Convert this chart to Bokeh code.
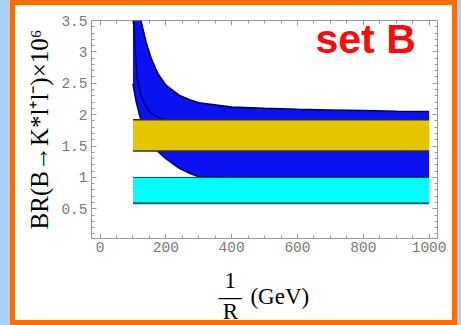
from bokeh.plotting import figure
from bokeh.models import Range1d, FixedTicker, LinearAxis, Label
from bokeh.layouts import column
from bokeh.embed import file_html
from bokeh.resources import INLINE

# ---- data ----
band_x = [100, 110, 124, 140, 155, 175, 200, 240, 270, 300, 400, 500, 600, 700, 800, 900, 1000]
br_upper = [3.5, 3.5, 3.5, 3.15, 2.9, 2.66, 2.47, 2.31, 2.24, 2.19, 2.12, 2.10, 2.085, 2.075, 2.065, 2.055, 2.05]
br_lower = [2.49, 2.2, 1.92, 1.72, 1.58, 1.42, 1.3, 1.15, 1.07, 1.01, 1.0, 1.0, 1.0, 1.0, 1.0, 1.0, 1.0]
inner_x = [102, 105, 108, 111, 114, 125, 135, 149, 165, 180, 194, 205]
br_inner = [3.5, 3.2, 2.95, 2.72, 2.54, 2.3, 2.17, 2.06, 1.99, 1.95, 1.92, 1.9]
box_x = [100, 1000]
yellow_band = [1.42, 1.92]
cyan_band = [0.59, 1.0]
x_major = [0, 200, 400, 600, 800, 1000]
x_minor = list(range(0, 1001, 50))
y_major = [0.5, 1.0, 1.5, 2.0, 2.5, 3.0, 3.5]
y_minor = [round(0.1 * i, 1) for i in range(1, 36)]
y_title = "BR(B\u2192K*l\u207al\u207b)\u00d710\u2076"
x_title_num = "1"
x_title_den = "R"
x_title_unit = "(GeV)"
panel_title = "set B"

BLUE = "#0a12f2"
NAVY = "#000070"
YELLOW = "#e4c600"
CYAN = "#00ffff"
FRAME = "#9a9a9a"
TICKTXT = "#7a7a7a"
ORANGE = "#fa6b0a"
LIGHTBLUE = "#aad2f8"

x_rng = Range1d(-26, 1025.5)

p = figure(width=437, height=261,
           x_range=x_rng, y_range=Range1d(0.027, 3.5),
           output_backend="svg", toolbar_location=None,
           min_border_left=76, min_border_right=15,
           min_border_top=15, min_border_bottom=28,
           background_fill_color="white", border_fill_color="white",
           outline_line_color=FRAME, outline_line_width=1)
p.grid.visible = False

# blue band
p.varea(x=band_x, y1=br_lower, y2=br_upper, fill_color=BLUE)
p.line(x=band_x[2:], y=br_upper[2:], line_color=NAVY, line_width=1.6)
p.line(x=band_x, y=br_lower, line_color=NAVY, line_width=1.6)
p.line(x=inner_x, y=br_inner, line_color=NAVY, line_width=1.4)

# yellow band
p.quad(left=[box_x[0]], right=[box_x[1]], bottom=[yellow_band[0]], top=[yellow_band[1]],
       fill_color=YELLOW, line_color=None)
p.segment(x0=[box_x[0]] * 2, x1=[box_x[1]] * 2, y0=yellow_band, y1=yellow_band,
          line_color="#3a3000", line_width=1.4)

# cyan band
p.quad(left=[box_x[0]], right=[box_x[1]], bottom=[cyan_band[0]], top=[cyan_band[1]],
       fill_color=CYAN, line_color=None)
p.segment(x0=[box_x[0]], x1=[box_x[1]], y0=[cyan_band[0]], y1=[cyan_band[0]],
          line_color="#006a6a", line_width=2)
p.segment(x0=[box_x[0]], x1=[box_x[1]], y0=[cyan_band[1]], y1=[cyan_band[1]],
          line_color="#005050", line_width=1)


def style_axis(ax, show_labels, ticks):
    ax.axis_line_color = None
    ax.major_tick_in = 5
    ax.major_tick_out = 0
    ax.minor_tick_in = 3
    ax.minor_tick_out = 0
    ax.major_tick_line_color = FRAME
    ax.minor_tick_line_color = FRAME
    if show_labels:
        ax.major_label_text_font = "Liberation Mono"
        ax.major_label_text_font_size = "14.5px"
        ax.major_label_text_color = TICKTXT
    else:
        ax.major_label_overrides = {t: "" for t in ticks}
        ax.major_label_standoff = 0


p.xaxis.ticker = FixedTicker(ticks=x_major, minor_ticks=x_minor)
p.yaxis.ticker = FixedTicker(ticks=y_major, minor_ticks=y_minor)
style_axis(p.xaxis[0], True, x_major)
style_axis(p.yaxis[0], True, y_major)
p.xaxis.major_label_standoff = 3
p.yaxis.major_label_standoff = 4
p.yaxis.axis_label = y_title
p.yaxis.axis_label_text_font = "Liberation Serif"
p.yaxis.axis_label_text_font_size = "25px"
p.yaxis.axis_label_text_font_style = "normal"
p.yaxis.axis_label_text_color = "black"
p.yaxis.axis_label_standoff = 5

top_ax = LinearAxis(ticker=FixedTicker(ticks=x_major, minor_ticks=x_minor))
right_ax = LinearAxis(ticker=FixedTicker(ticks=y_major, minor_ticks=y_minor))
style_axis(top_ax, False, x_major)
style_axis(right_ax, False, y_major)
p.add_layout(top_ax, "above")
p.add_layout(right_ax, "right")

p.add_layout(Label(x=224, y=177, x_units="screen", y_units="screen", text=panel_title,
                   text_font="Liberation Sans", text_font_style="bold",
                   text_font_size="41px", text_color="#ff0a0a"))

# strip below the chart carrying the x-axis title (1/R (GeV)); shares the chart's x scale
q = figure(width=437, height=54, x_range=x_rng, y_range=Range1d(0, 54),
           output_backend="svg", toolbar_location=None,
           x_axis_location=None, y_axis_location=None,
           min_border_left=76, min_border_right=15, min_border_top=0, min_border_bottom=0,
           background_fill_color="white", border_fill_color="white",
           outline_line_color=None)
q.grid.visible = False
serif = dict(text_font="Liberation Serif", text_font_size="23px", text_color="black",
             text_baseline="alphabetic")
frac_x = 396
unit_x = 457
q.add_layout(Label(x=frac_x, y=40, text=x_title_num, text_align="center", **serif))
q.add_layout(Label(x=frac_x, y=24, text="\u2015", text_align="center", **serif))
q.add_layout(Label(x=frac_x, y=9.5, text=x_title_den, text_align="center", **serif))
q.add_layout(Label(x=unit_x, y=24, text=x_title_unit, text_align="left", **serif))

white = column(p, q, spacing=0, styles={"background-color": "white"})
white.margin = (5, 5, 5, 5)
orange = column(white, styles={"background-color": ORANGE})
orange.margin = (0, 4, 0, 10)
page = column(orange, styles={"background-color": LIGHTBLUE})

open("out.html", "w").write(file_html(page, INLINE))
